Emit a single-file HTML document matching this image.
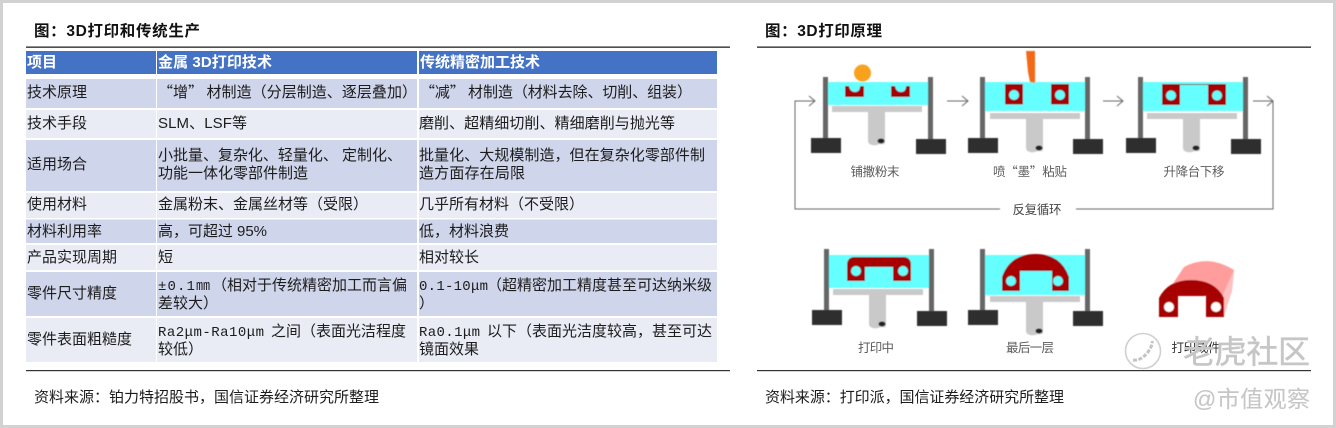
<!DOCTYPE html>
<html lang="zh">
<head>
<meta charset="utf-8">
<title>3D打印和传统生产</title>
<style>
html,body{margin:0;padding:0;background:#fff;width:1336px;height:428px;overflow:hidden}
svg{display:block}
text{font-family:"Liberation Sans","Noto Sans CJK SC",sans-serif;font-size:15px;fill:#1c1c1c}
.m{font-family:"Liberation Mono","Noto Sans CJK SC",monospace;font-size:14px}
.cj{font-family:"Noto Sans CJK SC",sans-serif}
.h{font-weight:700;fill:#fff}
.t{font-weight:700;font-size:15.5px;fill:#111}
.f{font-size:15px;fill:#1c1c1c}
.c{font-size:12.500px;fill:#5c5c5c;text-anchor:middle;font-family:"Noto Sans CJK SC",sans-serif}
.wm{fill:#c6c6c6;stroke:#c6c6c6;stroke-width:.5}
</style>
</head>
<body>
<svg width="1336" height="428" viewBox="0 0 1336 428" xmlns="http://www.w3.org/2000/svg">
<defs>
<filter id="b" x="-5%" y="-5%" width="110%" height="110%"><feGaussianBlur stdDeviation="0.45"/></filter>
<g id="stand">
<rect x="823" y="77" width="5" height="61" fill="#666"/>
<rect x="928" y="77" width="5" height="62" fill="#666"/>
<rect x="811" y="138" width="30" height="15" fill="#2f2f2f"/>
<rect x="916" y="139" width="30" height="15" fill="#2f2f2f"/>
</g>
<g id="plat">
<rect x="832" y="106" width="90" height="6" fill="#c9c9c9"/>
<path d="M868 112H885V142Q885 145 880 144Q875 146 872 145Q868 144 868 141Z" fill="#c9c9c9"/>
<ellipse cx="881" cy="141" rx="3.500" ry="2.500" fill="#222"/>
</g>
</defs>

<rect width="1336" height="428" fill="#d2d2d2"/>
<rect x="3" y="3" width="1330" height="422" fill="#fff"/>

<!-- Left table -->
<text class="t" x="34" y="36" textLength="166" lengthAdjust="spacing">图：3D打印和传统生产</text>
<rect x="26" y="46.500" width="704" height="1.300" fill="#222"/>

<g>
<rect x="26" y="51" width="130" height="23" fill="#4472c4"/><rect x="157" y="51" width="260" height="23" fill="#4472c4"/><rect x="419" y="51" width="298" height="23" fill="#4472c4"/>
<rect x="26" y="79" width="130" height="29" fill="#cfd5ea"/><rect x="157" y="79" width="260" height="29" fill="#cfd5ea"/><rect x="419" y="79" width="298" height="29" fill="#cfd5ea"/>
<rect x="26" y="110" width="130" height="28" fill="#e9ebf5"/><rect x="157" y="110" width="260" height="28" fill="#e9ebf5"/><rect x="419" y="110" width="298" height="28" fill="#e9ebf5"/>
<rect x="26" y="140" width="130" height="51" fill="#cfd5ea"/><rect x="157" y="140" width="260" height="51" fill="#cfd5ea"/><rect x="419" y="140" width="298" height="51" fill="#cfd5ea"/>
<rect x="26" y="193" width="130" height="25" fill="#e9ebf5"/><rect x="157" y="193" width="260" height="25" fill="#e9ebf5"/><rect x="419" y="193" width="298" height="25" fill="#e9ebf5"/>
<rect x="26" y="219.500" width="130" height="23.500" fill="#cfd5ea"/><rect x="157" y="219.500" width="260" height="23.500" fill="#cfd5ea"/><rect x="419" y="219.500" width="298" height="23.500" fill="#cfd5ea"/>
<rect x="26" y="245" width="130" height="25" fill="#e9ebf5"/><rect x="157" y="245" width="260" height="25" fill="#e9ebf5"/><rect x="419" y="245" width="298" height="25" fill="#e9ebf5"/>
<rect x="26" y="272" width="130" height="44" fill="#cfd5ea"/><rect x="157" y="272" width="260" height="44" fill="#cfd5ea"/><rect x="419" y="272" width="298" height="44" fill="#cfd5ea"/>
<rect x="26" y="318" width="130" height="44" fill="#e9ebf5"/><rect x="157" y="318" width="260" height="44" fill="#e9ebf5"/><rect x="419" y="318" width="298" height="44" fill="#e9ebf5"/>
</g>

<text class="h" x="27" y="67">项目</text>
<text class="h" x="158" y="67" textLength="114" lengthAdjust="spacing">金属 3D打印技术</text>
<text class="h" x="420" y="67" textLength="120" lengthAdjust="spacing">传统精密加工技术</text>

<text x="27" y="97" textLength="60" lengthAdjust="spacing">技术原理</text>
<text class="cj" x="158" y="97" textLength="259" lengthAdjust="spacing">“增” 材制造（分层制造、逐层叠加）</text>
<text class="cj" x="420" y="97" textLength="272" lengthAdjust="spacing">“减” 材制造（材料去除、切削、组装）</text>

<text x="27" y="128" textLength="60" lengthAdjust="spacing">技术手段</text>
<text x="158" y="128" textLength="89" lengthAdjust="spacing">SLM、LSF等</text>
<text x="419" y="128" textLength="256" lengthAdjust="spacing">磨削、超精细切削、精细磨削与抛光等</text>

<text x="27" y="169" textLength="60" lengthAdjust="spacing">适用场合</text>
<text x="158" y="160" textLength="244" lengthAdjust="spacing">小批量、复杂化、轻量化、 定制化、</text>
<text x="158" y="178" textLength="150" lengthAdjust="spacing">功能一体化零部件制造</text>
<text x="419" y="160" textLength="286" lengthAdjust="spacing">批量化、大规模制造，但在复杂化零部件制</text>
<text x="419" y="178" textLength="106" lengthAdjust="spacing">造方面存在局限</text>

<text x="27" y="209" textLength="60" lengthAdjust="spacing">使用材料</text>
<text x="158" y="209" textLength="210" lengthAdjust="spacing">金属粉末、金属丝材等（受限）</text>
<text x="419" y="209" textLength="165" lengthAdjust="spacing">几乎所有材料（不受限）</text>

<text x="27" y="236" textLength="75" lengthAdjust="spacing">材料利用率</text>
<text x="158" y="236" textLength="109" lengthAdjust="spacing">高，可超过 95%</text>
<text x="419" y="236" textLength="90" lengthAdjust="spacing">低，材料浪费</text>

<text x="27" y="262" textLength="90" lengthAdjust="spacing">产品实现周期</text>
<text x="158" y="262">短</text>
<text x="419" y="262" textLength="60" lengthAdjust="spacing">相对较长</text>

<text x="27" y="298" textLength="90" lengthAdjust="spacing">零件尺寸精度</text>
<text class="m" x="158" y="290" textLength="52" lengthAdjust="spacing">±0.1㎜</text>
<text x="212" y="290" textLength="195" lengthAdjust="spacing">（相对于传统精密加工而言偏</text>
<text x="158" y="308" textLength="60" lengthAdjust="spacing">差较大）</text>
<text class="m" x="419" y="290" textLength="69" lengthAdjust="spacing">0.1-10μm</text>
<text x="487" y="290" textLength="225" lengthAdjust="spacing">（超精密加工精度甚至可达纳米级</text>
<text x="419" y="308">）</text>

<text x="27" y="344" textLength="105" lengthAdjust="spacing">零件表面粗糙度</text>
<text class="m" x="158" y="336" textLength="106" lengthAdjust="spacing">Ra2μm-Ra10μm</text>
<text x="271" y="336" textLength="135" lengthAdjust="spacing">之间（表面光洁程度</text>
<text x="158" y="354" textLength="45" lengthAdjust="spacing">较低）</text>
<text class="m" x="419" y="336" textLength="61" lengthAdjust="spacing">Ra0.1μm</text>
<text x="487" y="336" textLength="225" lengthAdjust="spacing">以下（表面光洁度较高，甚至可达</text>
<text x="419" y="354" textLength="60" lengthAdjust="spacing">镜面效果</text>

<rect x="26" y="370" width="704" height="1.200" fill="#333"/>
<text class="f" x="34" y="402" textLength="345" lengthAdjust="spacing">资料来源：铂力特招股书，国信证券经济研究所整理</text>

<!-- Right panel -->
<text class="t" x="765" y="36" textLength="117" lengthAdjust="spacing">图：3D打印原理</text>
<rect x="757" y="46.500" width="554" height="1.300" fill="#222"/>
<rect x="757" y="370" width="554" height="1.200" fill="#333"/>
<text class="f" x="765" y="402" textLength="299" lengthAdjust="spacing">资料来源：打印派，国信证券经济研究所整理</text>

<g filter="url(#b)">
<!-- cyan baths -->
<rect x="828" y="82" width="100" height="23" fill="#66ffff"/>
<rect x="985" y="82" width="101" height="29" fill="#66ffff"/>
<rect x="1142" y="82" width="101" height="29" fill="#66ffff"/>
<rect x="828" y="255" width="101" height="33" fill="#66ffff"/>
<rect x="985" y="255" width="101" height="40" fill="#66ffff"/>

<use href="#stand"/>
<use href="#stand" transform="translate(157,0)"/>
<use href="#stand" transform="translate(315,0)"/>
<use href="#stand" transform="translate(1,172)"/>
<use href="#stand" transform="translate(157,172)"/>

<use href="#plat"/>
<use href="#plat" transform="translate(158,7)"/>
<use href="#plat" transform="translate(315,7)"/>
<use href="#plat" transform="translate(1,183)"/>
<use href="#plat" transform="translate(158,190)"/>

<!-- unit 1 -->
<circle cx="862.500" cy="73" r="8.500" fill="#f7a11a"/>
<path d="M845 86H849Q850 92 855 92Q860 92 860 86H864V97H845Z" fill="#a60000"/>
<path d="M891 86H895Q896 92 901 92Q906 92 906 86H910V97H891Z" fill="#a60000"/>

<!-- unit 2 -->
<polygon points="1026,51 1035,51 1035,83 1030,82 1028,72" fill="#f26a12"/>
<rect x="1005" y="84" width="18" height="20.500" fill="#a60000"/><circle cx="1014" cy="95" r="5" fill="#66ffff"/>
<rect x="1051" y="84" width="18" height="20.500" fill="#a60000"/><circle cx="1060" cy="95" r="5" fill="#66ffff"/>

<!-- unit 3 -->
<rect x="1162" y="84" width="18" height="21" fill="#a60000"/><circle cx="1171" cy="95.500" r="5" fill="#66ffff"/>
<rect x="1208" y="84" width="18" height="21" fill="#a60000"/><circle cx="1217" cy="95.500" r="5" fill="#66ffff"/>
<rect x="1180" y="84" width="28" height="1" fill="#8a0000"/>

<!-- unit 4 -->
<path d="M847 281V265Q847 257 855 257H903Q911 257 911 265V281H893V267H865V281Z" fill="#a60000"/>
<circle cx="856" cy="271" r="5" fill="#66ffff"/><circle cx="903" cy="271" r="5" fill="#66ffff"/>

<!-- unit 5 -->
<path d="M1002 291V277Q1010 254 1035.500 254Q1061 254 1069 277V291H1052V271H1020V291Z" fill="#a60000"/>
<circle cx="1011" cy="281" r="5" fill="#66ffff"/><circle cx="1058" cy="281" r="5" fill="#66ffff"/>

<!-- finished part -->
<path d="M1172 285L1184 267Q1208 254 1234 270L1232 290L1224 316L1216 300Z" fill="#ff9d9d"/>
<path d="M1234 270L1232 290L1224 316L1222 296Z" fill="#ffc0c0"/>
<path d="M1159 317V298Q1168 280 1191 280Q1215 280 1224 298V317H1206V296H1178V317Z" fill="#a60000"/>
<circle cx="1169" cy="307" r="5" fill="#fff"/><circle cx="1216" cy="307" r="5" fill="#fff"/>

<!-- arrows -->
<g fill="none" stroke="#666" stroke-width="1">
<path d="M1000 209H795V101H815M809 96L815 101L809 106"/>
<path d="M947 101H968M962 96L968 101L962 106"/>
<path d="M1103 101H1123M1117 96L1123 101L1117 106"/>
<path d="M1076 209H1273V101M1253 101H1273M1267 96L1273 101L1267 106"/>
</g>
</g>

<text class="c" x="875" y="176" textLength="49" lengthAdjust="spacing">铺撒粉末</text>
<text class="c" x="1030" y="176" textLength="74" lengthAdjust="spacing">喷“墨”粘贴</text>
<text class="c" x="1194" y="176" textLength="61" lengthAdjust="spacing">升降台下移</text>
<text class="c" x="1037" y="214" textLength="49" lengthAdjust="spacing" style="fill:#444">反复循环</text>
<text class="c" x="876" y="352" textLength="36" lengthAdjust="spacing">打印中</text>
<text class="c" x="1030" y="352" textLength="48" lengthAdjust="spacing">最后一层</text>
<text class="c" x="1196" y="352" textLength="49" lengthAdjust="spacing" style="fill:#333">打印成件</text>

<!-- watermark -->
<circle cx="1143" cy="351" r="17.500" fill="none" stroke="#d0d0d0" stroke-width="1.600"/>
<path d="M1133 360Q1141 361 1148 352Q1153 345 1152 341" fill="none" stroke="#c4c4c4" stroke-width="3" stroke-dasharray="4 1.500"/>
<text class="wm" x="1183" y="363" textLength="127" lengthAdjust="spacing" style="font-size:32px">老虎社区</text>
<text class="wm" x="1193" y="407" textLength="117" lengthAdjust="spacing" style="font-size:23px;stroke-width:.1">@市值观察</text>
</svg>
</body>
</html>
